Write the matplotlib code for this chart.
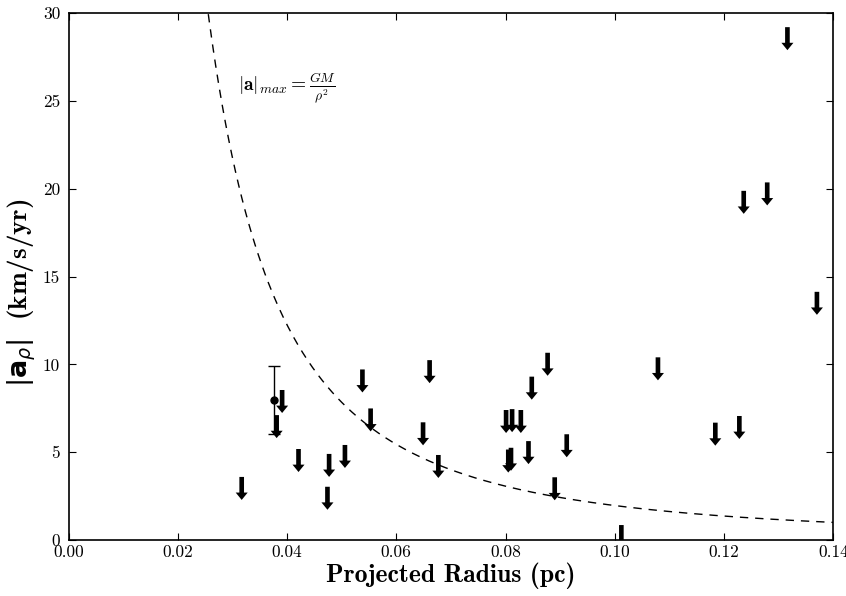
import os
import numpy as np
import matplotlib
matplotlib.use("Agg")
import matplotlib.pyplot as plt
from matplotlib.font_manager import FontProperties

# upper limits on projected acceleration (arrow tails)
lim_r = [0.0317, 0.0381, 0.0391, 0.0421, 0.0477, 0.0474, 0.0506, 0.0538, 0.0553,
         0.0649, 0.0661, 0.0677, 0.0801, 0.0812, 0.0828, 0.0805, 0.0810, 0.0842,
         0.0848, 0.0877, 0.0890, 0.0912, 0.1012, 0.1079, 0.1184, 0.1228, 0.1236,
         0.1279, 0.1316, 0.1370]
lim_a = [3.59, 7.11, 8.54, 5.18, 4.90, 3.03, 5.41, 9.71, 7.49,
         6.70, 10.24, 4.84, 7.40, 7.45, 7.40, 5.15, 5.25, 5.63,
         9.30, 10.66, 3.57, 6.02, 0.85, 10.40, 6.68, 7.06, 19.88,
         20.36, 29.20, 14.13]

# the one detection
det_r = [0.0377]
det_a = [7.97]
det_err = [1.93]

GM = 0.0196

fontdir = os.path.join(matplotlib.get_data_path(), "fonts", "ttf")
xbold = FontProperties(fname=os.path.join(fontdir, "cmb10.ttf"), size=18.5)
ybold = FontProperties(fname=os.path.join(fontdir, "cmb10.ttf"), size=19.5)

plt.rcParams["font.family"] = "serif"
plt.rcParams["font.serif"] = ["cmr10"]
plt.rcParams["mathtext.fontset"] = "cm"
plt.rcParams["axes.formatter.use_mathtext"] = True

fig = plt.figure(figsize=(8.46, 5.96), dpi=100)
ax = fig.add_axes([0.081, 0.094, 0.904, 0.884])

# keplerian maximum
rr = np.linspace(0.02, 0.14, 400)
ax.plot(rr, GM / rr**2, color="black", lw=1, dashes=(6, 5))

for r, a in zip(lim_r, lim_a):
    ax.arrow(r, a, 0, -1.31, width=0.00085, head_width=0.0022, head_length=0.42,
             length_includes_head=True, color="black", lw=0)

ax.errorbar(det_r, det_a, yerr=det_err, fmt="o", color="black", ms=5,
            elinewidth=1, capsize=4, capthick=1)

ax.text(0.031, 25.7, r"$|\mathbf{a}|_{max} = \frac{GM}{\rho^2}$", fontsize=14,
        va="center", ha="left")

ax.set_xlim(0, 0.14)
ax.set_ylim(0, 30)
ax.set_xticks(np.arange(0, 0.141, 0.02))
ax.set_yticks(np.arange(0, 31, 5))
ax.xaxis.set_major_formatter(matplotlib.ticker.FormatStrFormatter("%.2f"))
ax.yaxis.set_major_formatter(matplotlib.ticker.FormatStrFormatter("%d"))
ax.tick_params(direction="in", top=True, right=True, labelsize=12.5, length=5)
ax.tick_params(axis="y", pad=6)
for s in ax.spines.values():
    s.set_linewidth(1.2)

ax.set_xlabel("Projected Radius (pc)", fontproperties=xbold, labelpad=2)
ax.set_ylabel(r"$|\mathbf{a}_{\rho}|\ $ (km/s/yr)", fontproperties=ybold, labelpad=4)
ax.yaxis.set_label_coords(-0.04, 0.47)

fig.savefig("out.png", dpi=100)
